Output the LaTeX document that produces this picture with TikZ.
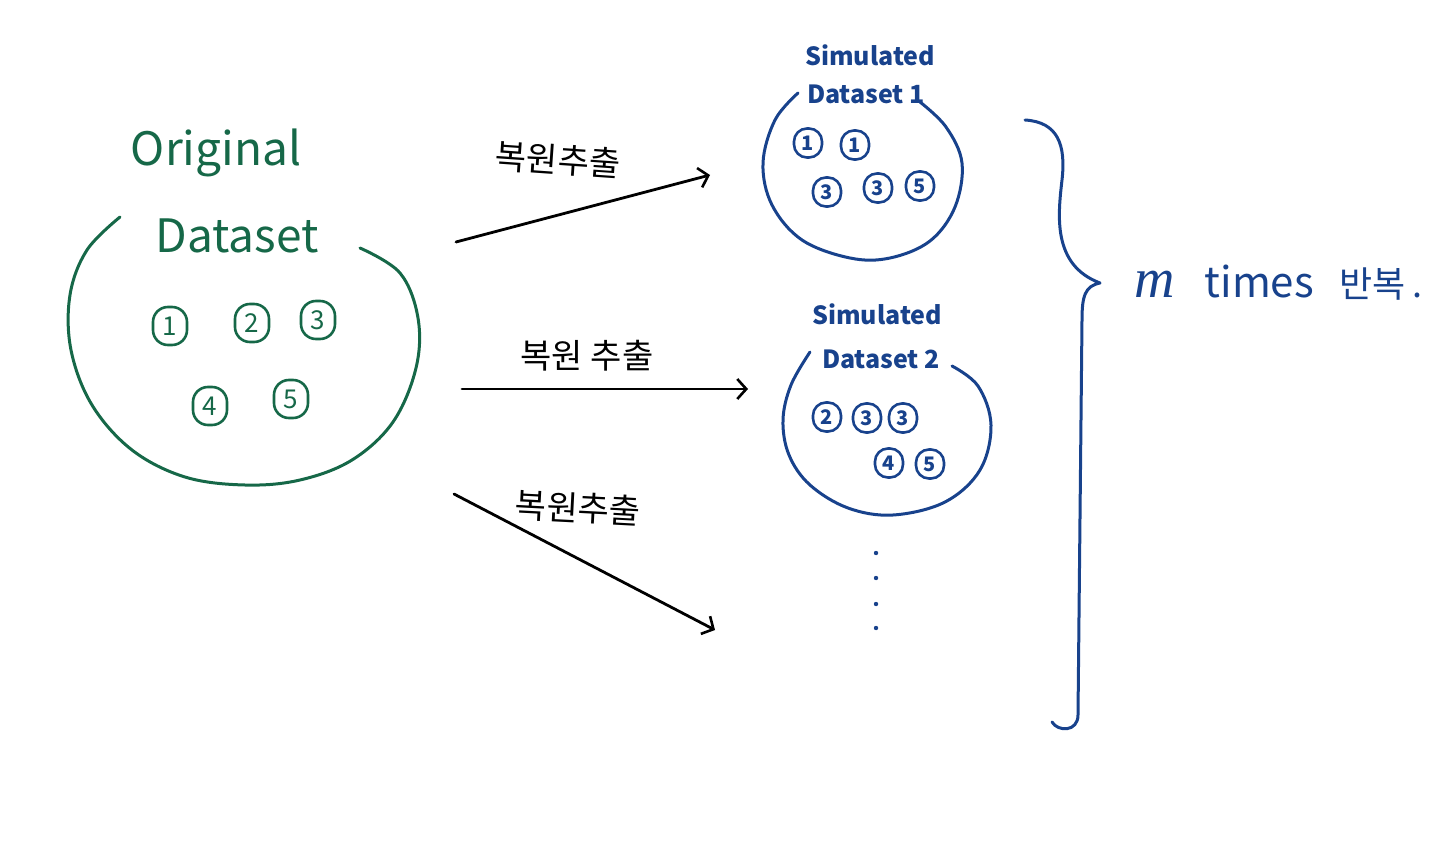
\documentclass[tikz,border=0pt]{standalone}
\usepackage{fontspec}
\setmainfont{Noto Sans CJK KR}
\newfontfamily\mfont{Liberation Serif}
\usetikzlibrary{arrows.meta}
\definecolor{dgreen}{RGB}{22,104,72}
\definecolor{dblue}{RGB}{24,66,140}
\begin{document}
\begin{tikzpicture}[x=1pt,y=-1pt,
  outline/.style={line width=3pt, line cap=round, line join=round},
  gitem/.style={draw=dgreen, text=dgreen, line width=2.6pt, rounded corners=15pt,
    minimum width=34pt, minimum height=38pt, inner sep=0pt, font=\fontsize{26}{26}\selectfont},
  bitem/.style={draw=dblue, text=dblue, line width=2.6pt, rounded corners=13pt,
    minimum width=28pt, minimum height=29pt, inner sep=0pt, font=\bfseries\fontsize{20}{20}\selectfont},
  gtitle/.style={text=dgreen, font=\fontsize{46}{46}\selectfont},
  btitle/.style={text=dblue, font=\bfseries\fontsize{25}{25}\selectfont},
  klabel/.style={font=\fontsize{34}{34}\selectfont},
  arr/.style={line width=2.8pt, line cap=round, -{Straight Barb[length=9pt,width=20pt,line width=2.6pt]}}]
\useasboundingbox (0,0) rectangle (1440,842);

% Original dataset
\node[gtitle] (o1) at (216,153) {Original};
\node[gtitle] (o2) at (237,236) {Dataset};
\draw[outline, dgreen] plot[smooth, tension=0.6] coordinates {(360,248) (400,273) (418,318) (416,368) (393,422) (352,460) (300,480) (245,485) (185,477) (132,450) (92,405) (71,350) (70,295) (87,250) (120,217)};
\node[gitem] (g1) at (170,326) {1};
\node[gitem] (g2) at (252,323) {2};
\node[gitem] (g3) at (318,320) {3};
\node[gitem] (g4) at (210,406) {4};
\node[gitem] (g5) at (291,399) {5};

% Simulated dataset 1
\node[btitle] (s1a) at (870,55) {Simulated};
\node[btitle] (s1b) at (866,94) {Dataset 1};
\draw[outline, dblue] plot[smooth, tension=0.6] coordinates {(920,102) (946,127) (962,163) (955,207) (930,241) (890,258) (850,258) (802,240) (772,205) (763,163) (775,120) (798,93)};
\node[bitem] (b11) at (808,143) {1};
\node[bitem] (b12) at (855,145) {1};
\node[bitem] (b13) at (827,192) {3};
\node[bitem] (b14) at (878,188) {3};
\node[bitem] (b15) at (920,186) {5};

% Simulated dataset 2
\node[btitle] (s2a) at (877,314) {Simulated};
\node[btitle] (s2b) at (881,359) {Dataset 2};
\draw[outline, dblue] plot[smooth, tension=0.6] coordinates {(952,366) (978,386) (991,425) (980,470) (945,502) (893,515) (848,508) (810,485) (789,455) (783,420) (791,385) (810,352)};
\node[bitem] (b21) at (827,417) {2};
\node[bitem] (b22) at (867,418) {3};
\node[bitem] (b23) at (903,418) {3};
\node[bitem] (b24) at (889,463) {4};
\node[bitem] (b25) at (930,464) {5};

% continuation dots
\foreach \yy in {553,578,604,628} \fill[dblue] (876,\yy) circle (2.2pt);

% arrows
\coordinate (a1s) at (456,242); \coordinate (a1e) at (710,175);
\coordinate (a2s) at (462,389); \coordinate (a2e) at (748,389);
\coordinate (a3s) at (454,494); \coordinate (a3e) at (715,630);
\draw[arr] (a1s) -- (a1e);
\draw[arr] (a2s) -- (a2e);
\draw[arr] (a3s) -- (a3e);
\node[klabel, rotate=-4] (l1) at (558,160) {복원추출};
\node[klabel] (l2) at (587,356) {복원 추출};
\node[klabel, rotate=-3] (l3) at (578,508) {복원추출};

% brace
\draw[outline, dblue] (1025,120) .. controls (1058,122) and (1066,145) .. (1062,180)
  .. controls (1058,215) and (1052,265) .. (1100,283)
  .. controls (1085,286) and (1082,296) .. (1082,320)
  -- (1078,715) .. controls (1078,732) and (1058,732) .. (1052,722);
\coordinate (tip) at (1100,283);
\node[text=dblue, anchor=west, inner sep=0pt] (rep) at (1134,283)
  {{\mfont\itshape\fontsize{56}{56}\selectfont m}\hspace{30pt}{\fontsize{42}{42}\selectfont times}\hspace{26pt}{\fontsize{36}{36}\selectfont 반복}\hspace{6pt}{\fontsize{36}{36}\selectfont .}};
\end{tikzpicture}
\end{document}
